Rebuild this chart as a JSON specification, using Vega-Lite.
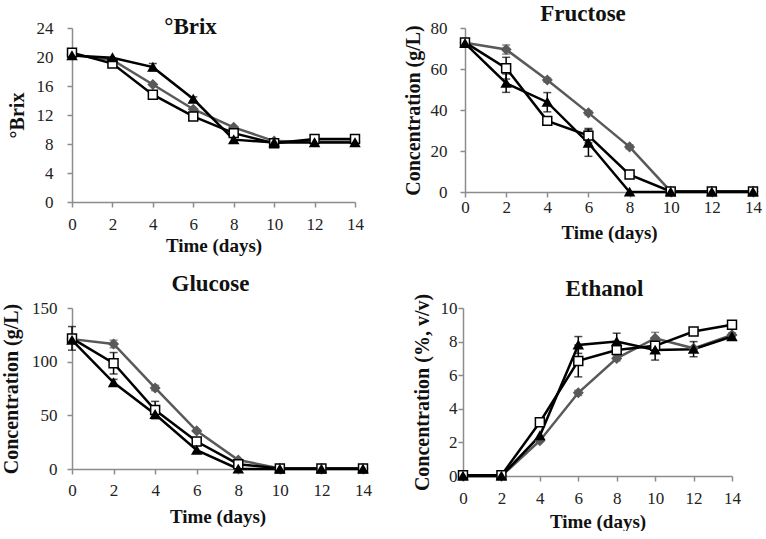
{
  "$schema": "https://vega.github.io/schema/vega-lite/v6.json",
  "padding": {"left": 1, "top": 3, "right": 0, "bottom": 0},
  "background": "white",
  "data": {"values": [
    {"panel":"Brix","series":"C","day":0,"value":20.3,"err":0},
    {"panel":"Brix","series":"C","day":2,"value":19.6,"err":0},
    {"panel":"Brix","series":"C","day":4,"value":16.2,"err":0},
    {"panel":"Brix","series":"C","day":6,"value":12.8,"err":0},
    {"panel":"Brix","series":"C","day":8,"value":10.3,"err":0},
    {"panel":"Brix","series":"C","day":10,"value":8.4,"err":0},
    {"panel":"Brix","series":"C","day":12,"value":8.3,"err":0},
    {"panel":"Brix","series":"C","day":14,"value":8.3,"err":0},
    {"panel":"Brix","series":"A","day":0,"value":20.6,"err":0},
    {"panel":"Brix","series":"A","day":2,"value":19.1,"err":0},
    {"panel":"Brix","series":"A","day":4,"value":14.8,"err":0},
    {"panel":"Brix","series":"A","day":6,"value":11.8,"err":0},
    {"panel":"Brix","series":"A","day":8,"value":9.5,"err":0},
    {"panel":"Brix","series":"A","day":10,"value":8.1,"err":0},
    {"panel":"Brix","series":"A","day":12,"value":8.7,"err":0},
    {"panel":"Brix","series":"A","day":14,"value":8.7,"err":0},
    {"panel":"Brix","series":"B","day":0,"value":20.2,"err":0},
    {"panel":"Brix","series":"B","day":2,"value":19.9,"err":0},
    {"panel":"Brix","series":"B","day":4,"value":18.6,"err":0.5},
    {"panel":"Brix","series":"B","day":6,"value":14.2,"err":0.3},
    {"panel":"Brix","series":"B","day":8,"value":8.6,"err":0},
    {"panel":"Brix","series":"B","day":10,"value":8.2,"err":0},
    {"panel":"Brix","series":"B","day":12,"value":8.2,"err":0},
    {"panel":"Brix","series":"B","day":14,"value":8.2,"err":0},

    {"panel":"Fructose","series":"C","day":0,"value":72.8,"err":0},
    {"panel":"Fructose","series":"C","day":2,"value":69.5,"err":2.2},
    {"panel":"Fructose","series":"C","day":4,"value":54.6,"err":1},
    {"panel":"Fructose","series":"C","day":6,"value":38.6,"err":1},
    {"panel":"Fructose","series":"C","day":8,"value":22.0,"err":1},
    {"panel":"Fructose","series":"C","day":10,"value":0.3,"err":0},
    {"panel":"Fructose","series":"C","day":12,"value":0.3,"err":0},
    {"panel":"Fructose","series":"C","day":14,"value":0.3,"err":0},
    {"panel":"Fructose","series":"A","day":0,"value":73.0,"err":0},
    {"panel":"Fructose","series":"A","day":2,"value":60.4,"err":5.3},
    {"panel":"Fructose","series":"A","day":4,"value":34.7,"err":0},
    {"panel":"Fructose","series":"A","day":6,"value":27.5,"err":3.5},
    {"panel":"Fructose","series":"A","day":8,"value":8.5,"err":0},
    {"panel":"Fructose","series":"A","day":10,"value":0.3,"err":0},
    {"panel":"Fructose","series":"A","day":12,"value":0.3,"err":0},
    {"panel":"Fructose","series":"A","day":14,"value":0.3,"err":0},
    {"panel":"Fructose","series":"B","day":0,"value":72.5,"err":0},
    {"panel":"Fructose","series":"B","day":2,"value":53.1,"err":4.5},
    {"panel":"Fructose","series":"B","day":4,"value":43.8,"err":4.7},
    {"panel":"Fructose","series":"B","day":6,"value":23.9,"err":6.5},
    {"panel":"Fructose","series":"B","day":8,"value":0,"err":0},
    {"panel":"Fructose","series":"B","day":10,"value":0,"err":0},
    {"panel":"Fructose","series":"B","day":12,"value":0,"err":0},
    {"panel":"Fructose","series":"B","day":14,"value":0,"err":0},

    {"panel":"Glucose","series":"C","day":0,"value":121,"err":0},
    {"panel":"Glucose","series":"C","day":2,"value":116.5,"err":3.5},
    {"panel":"Glucose","series":"C","day":4,"value":75.5,"err":2.5},
    {"panel":"Glucose","series":"C","day":6,"value":35.5,"err":0},
    {"panel":"Glucose","series":"C","day":8,"value":8.4,"err":0},
    {"panel":"Glucose","series":"C","day":10,"value":0.5,"err":0},
    {"panel":"Glucose","series":"C","day":12,"value":0.5,"err":0},
    {"panel":"Glucose","series":"C","day":14,"value":0.5,"err":0},
    {"panel":"Glucose","series":"A","day":0,"value":121.7,"err":11},
    {"panel":"Glucose","series":"A","day":2,"value":98.5,"err":10},
    {"panel":"Glucose","series":"A","day":4,"value":55,"err":8},
    {"panel":"Glucose","series":"A","day":6,"value":25.6,"err":0},
    {"panel":"Glucose","series":"A","day":8,"value":4.5,"err":0},
    {"panel":"Glucose","series":"A","day":10,"value":0.5,"err":0},
    {"panel":"Glucose","series":"A","day":12,"value":0.5,"err":0},
    {"panel":"Glucose","series":"A","day":14,"value":0.5,"err":0},
    {"panel":"Glucose","series":"B","day":0,"value":120,"err":0},
    {"panel":"Glucose","series":"B","day":2,"value":80.5,"err":3},
    {"panel":"Glucose","series":"B","day":4,"value":51,"err":4},
    {"panel":"Glucose","series":"B","day":6,"value":17.5,"err":0},
    {"panel":"Glucose","series":"B","day":8,"value":0,"err":0},
    {"panel":"Glucose","series":"B","day":10,"value":0,"err":0},
    {"panel":"Glucose","series":"B","day":12,"value":0,"err":0},
    {"panel":"Glucose","series":"B","day":14,"value":0,"err":0},

    {"panel":"Ethanol","series":"C","day":0,"value":0,"err":0},
    {"panel":"Ethanol","series":"C","day":2,"value":0,"err":0},
    {"panel":"Ethanol","series":"C","day":4,"value":2.1,"err":0},
    {"panel":"Ethanol","series":"C","day":6,"value":4.95,"err":0.15},
    {"panel":"Ethanol","series":"C","day":8,"value":7.0,"err":0.15},
    {"panel":"Ethanol","series":"C","day":10,"value":8.2,"err":0.35},
    {"panel":"Ethanol","series":"C","day":12,"value":7.6,"err":0},
    {"panel":"Ethanol","series":"C","day":14,"value":8.4,"err":0},
    {"panel":"Ethanol","series":"A","day":0,"value":0.05,"err":0},
    {"panel":"Ethanol","series":"A","day":2,"value":0.05,"err":0},
    {"panel":"Ethanol","series":"A","day":4,"value":3.2,"err":0},
    {"panel":"Ethanol","series":"A","day":6,"value":6.85,"err":0.95},
    {"panel":"Ethanol","series":"A","day":8,"value":7.5,"err":0},
    {"panel":"Ethanol","series":"A","day":10,"value":7.75,"err":0},
    {"panel":"Ethanol","series":"A","day":12,"value":8.6,"err":0},
    {"panel":"Ethanol","series":"A","day":14,"value":9.0,"err":0},
    {"panel":"Ethanol","series":"B","day":0,"value":0,"err":0},
    {"panel":"Ethanol","series":"B","day":2,"value":0,"err":0},
    {"panel":"Ethanol","series":"B","day":4,"value":2.4,"err":0},
    {"panel":"Ethanol","series":"B","day":6,"value":7.8,"err":0.5},
    {"panel":"Ethanol","series":"B","day":8,"value":8.0,"err":0.5},
    {"panel":"Ethanol","series":"B","day":10,"value":7.5,"err":0.6},
    {"panel":"Ethanol","series":"B","day":12,"value":7.55,"err":0.45},
    {"panel":"Ethanol","series":"B","day":14,"value":8.3,"err":0.2}
  ]},
  "resolve": {"scale": {"x": "independent", "y": "independent"}},
  "bounds": "flush",
  "spacing": 280,
  "vconcat": [
    {
      "bounds": "flush",
      "spacing": 110,
      "resolve": {"scale": {"x": "independent", "y": "independent"}},
      "hconcat": [
        {
          "width": 283, "height": 174,
          "title": {"text": "°Brix", "offset": -20, "dx": -23},
          "transform": [{"filter": "datum.panel === 'Brix'"}],
          "encoding": {
            "x": {"field": "day", "type": "quantitative", "scale": {"domain": [0, 14], "nice": false},
                  "axis": {"values": [0, 2, 4, 6, 8, 10, 12, 14], "title": "Time (days)", "labelPadding": 9, "titlePadding": 4}},
            "y": {"field": "value", "type": "quantitative", "scale": {"domain": [0, 24], "nice": false},
                  "axis": {"values": [0, 4, 8, 12, 16, 20, 24], "title": "°Brix", "labelPadding": 14, "titlePadding": 9}}
          },
          "layer": [
            {"transform": [{"filter": "datum.err > 0"}],
             "mark": {"type": "errorbar", "ticks": {"size": 8}, "thickness": 1.5},
             "encoding": {"yError": {"field": "err"},
               "color": {"field": "series", "type": "nominal", "scale": {"domain": ["A", "B", "C"], "range": ["#000000", "#000000", "#595959"]}, "legend": null}}},
            {"mark": {"type": "line", "strokeWidth": 2.5},
             "encoding": {"color": {"field": "series", "type": "nominal", "scale": {"domain": ["A", "B", "C"], "range": ["#000000", "#000000", "#595959"]}, "legend": null}}},
            {"mark": {"type": "point", "size": 80, "strokeWidth": 1.5, "opacity": 1, "fillOpacity": 1},
             "encoding": {
               "shape": {"field": "series", "type": "nominal", "scale": {"domain": ["A", "B", "C"], "range": ["square", "triangle-up", "diamond"]}, "legend": null},
               "fill": {"field": "series", "type": "nominal", "scale": {"domain": ["A", "B", "C"], "range": ["#ffffff", "#000000", "#595959"]}, "legend": null},
               "stroke": {"field": "series", "type": "nominal", "scale": {"domain": ["A", "B", "C"], "range": ["#000000", "#000000", "#595959"]}, "legend": null}}}
          ]
        },
        {
          "width": 288, "height": 164,
          "title": {"text": "Fructose", "offset": -7, "dx": -26},
          "transform": [{"filter": "datum.panel === 'Fructose'"}],
          "encoding": {
            "x": {"field": "day", "type": "quantitative", "scale": {"domain": [0, 14], "nice": false},
                  "axis": {"values": [0, 2, 4, 6, 8, 10, 12, 14], "title": "Time (days)", "labelPadding": 2, "titlePadding": 8}},
            "y": {"field": "value", "type": "quantitative", "scale": {"domain": [0, 80], "nice": false},
                  "axis": {"values": [0, 20, 40, 60, 80], "title": "Concentration (g/L)", "labelPadding": 13, "titlePadding": 7}}
          },
          "layer": [
            {"transform": [{"filter": "datum.err > 0"}],
             "mark": {"type": "errorbar", "ticks": {"size": 8}, "thickness": 1.5},
             "encoding": {"yError": {"field": "err"},
               "color": {"field": "series", "type": "nominal", "scale": {"domain": ["A", "B", "C"], "range": ["#000000", "#000000", "#595959"]}, "legend": null}}},
            {"mark": {"type": "line", "strokeWidth": 2.5},
             "encoding": {"color": {"field": "series", "type": "nominal", "scale": {"domain": ["A", "B", "C"], "range": ["#000000", "#000000", "#595959"]}, "legend": null}}},
            {"mark": {"type": "point", "size": 80, "strokeWidth": 1.5, "opacity": 1, "fillOpacity": 1},
             "encoding": {
               "shape": {"field": "series", "type": "nominal", "scale": {"domain": ["A", "B", "C"], "range": ["square", "triangle-up", "diamond"]}, "legend": null},
               "fill": {"field": "series", "type": "nominal", "scale": {"domain": ["A", "B", "C"], "range": ["#ffffff", "#000000", "#595959"]}, "legend": null},
               "stroke": {"field": "series", "type": "nominal", "scale": {"domain": ["A", "B", "C"], "range": ["#000000", "#000000", "#595959"]}, "legend": null}}}
          ]
        }
      ]
    },
    {
      "bounds": "flush",
      "spacing": 100,
      "resolve": {"scale": {"x": "independent", "y": "independent"}},
      "hconcat": [
        {
          "width": 291, "height": 161,
          "title": {"text": "Glucose", "offset": 3, "dx": -7},
          "transform": [{"filter": "datum.panel === 'Glucose'"}],
          "encoding": {
            "x": {"field": "day", "type": "quantitative", "scale": {"domain": [0, 14], "nice": false},
                  "axis": {"values": [0, 2, 4, 6, 8, 10, 12, 14], "title": "Time (days)", "labelPadding": 8, "titlePadding": 9}},
            "y": {"field": "value", "type": "quantitative", "scale": {"domain": [0, 150], "nice": false},
                  "axis": {"values": [0, 50, 100, 150], "title": "Concentration (g/L)", "labelPadding": 10, "titlePadding": 10}}
          },
          "layer": [
            {"transform": [{"filter": "datum.err > 0"}],
             "mark": {"type": "errorbar", "ticks": {"size": 8}, "thickness": 1.5},
             "encoding": {"yError": {"field": "err"},
               "color": {"field": "series", "type": "nominal", "scale": {"domain": ["A", "B", "C"], "range": ["#000000", "#000000", "#595959"]}, "legend": null}}},
            {"mark": {"type": "line", "strokeWidth": 2.5},
             "encoding": {"color": {"field": "series", "type": "nominal", "scale": {"domain": ["A", "B", "C"], "range": ["#000000", "#000000", "#595959"]}, "legend": null}}},
            {"mark": {"type": "point", "size": 80, "strokeWidth": 1.5, "opacity": 1, "fillOpacity": 1},
             "encoding": {
               "shape": {"field": "series", "type": "nominal", "scale": {"domain": ["A", "B", "C"], "range": ["square", "triangle-up", "diamond"]}, "legend": null},
               "fill": {"field": "series", "type": "nominal", "scale": {"domain": ["A", "B", "C"], "range": ["#ffffff", "#000000", "#595959"]}, "legend": null},
               "stroke": {"field": "series", "type": "nominal", "scale": {"domain": ["A", "B", "C"], "range": ["#000000", "#000000", "#595959"]}, "legend": null}}}
          ]
        },
        {
          "width": 269, "height": 168,
          "title": {"text": "Ethanol", "offset": -8, "dx": 7},
          "transform": [{"filter": "datum.panel === 'Ethanol'"}],
          "encoding": {
            "x": {"field": "day", "type": "quantitative", "scale": {"domain": [0, 14], "nice": false},
                  "axis": {"values": [0, 2, 4, 6, 8, 10, 12, 14], "title": "Time (days)", "labelPadding": 9, "titlePadding": 6}},
            "y": {"field": "value", "type": "quantitative", "scale": {"domain": [0, 10], "nice": false},
                  "axis": {"values": [0, 2, 4, 6, 8, 10], "title": "Concentration (%, v/v)", "labelPadding": 1, "titlePadding": 8}}
          },
          "layer": [
            {"transform": [{"filter": "datum.err > 0"}],
             "mark": {"type": "errorbar", "ticks": {"size": 8}, "thickness": 1.5},
             "encoding": {"yError": {"field": "err"},
               "color": {"field": "series", "type": "nominal", "scale": {"domain": ["A", "B", "C"], "range": ["#000000", "#000000", "#595959"]}, "legend": null}}},
            {"mark": {"type": "line", "strokeWidth": 2.5},
             "encoding": {"color": {"field": "series", "type": "nominal", "scale": {"domain": ["A", "B", "C"], "range": ["#000000", "#000000", "#595959"]}, "legend": null}}},
            {"mark": {"type": "point", "size": 80, "strokeWidth": 1.5, "opacity": 1, "fillOpacity": 1},
             "encoding": {
               "shape": {"field": "series", "type": "nominal", "scale": {"domain": ["A", "B", "C"], "range": ["square", "triangle-up", "diamond"]}, "legend": null},
               "fill": {"field": "series", "type": "nominal", "scale": {"domain": ["A", "B", "C"], "range": ["#ffffff", "#000000", "#595959"]}, "legend": null},
               "stroke": {"field": "series", "type": "nominal", "scale": {"domain": ["A", "B", "C"], "range": ["#000000", "#000000", "#595959"]}, "legend": null}}}
          ]
        }
      ]
    }
  ],
  "config": {
    "font": "Liberation Serif",
    "view": {"stroke": null},
    "axis": {"grid": false, "domainColor": "#8c8c8c", "domainWidth": 1.5, "tickColor": "#8c8c8c", "tickWidth": 1.5, "tickSize": 5,
             "labelFont": "Liberation Serif", "labelFontSize": 17, "labelColor": "#222222", "labelFlush": false, "labelOverlap": false,
             "titleFont": "Liberation Serif", "titleFontWeight": "bold", "titleColor": "#111111"},
    "axisX": {"titleFontSize": 19},
    "axisY": {"titleFontSize": 20},
    "title": {"font": "Liberation Serif", "fontSize": 23, "fontWeight": "bold", "color": "#111111", "anchor": "middle"}
  }
}
